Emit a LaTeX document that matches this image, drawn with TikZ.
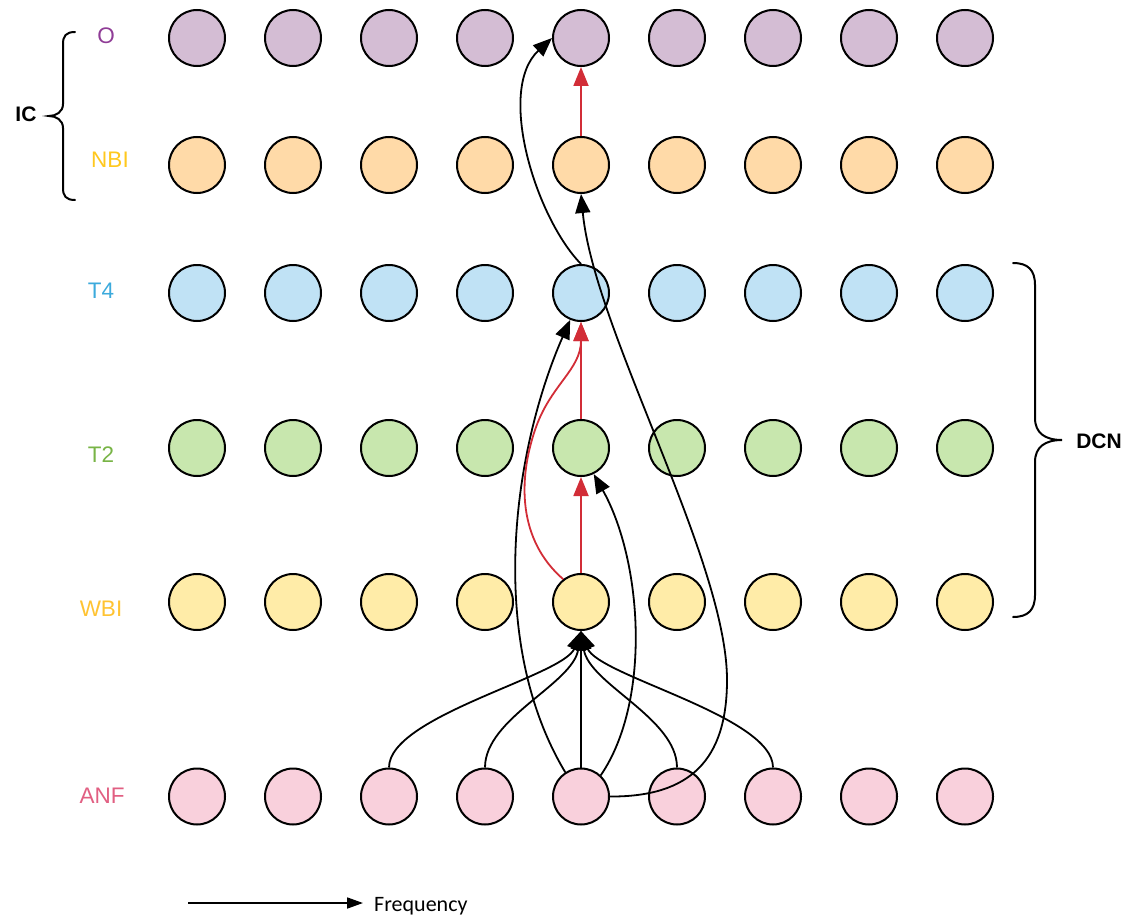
\documentclass[tikz,border=0pt]{standalone}
\usepackage{fontspec}
\setmainfont{Liberation Sans}
\newfontfamily\calib{Carlito}
\usetikzlibrary{arrows.meta}

% node fills
\definecolor{fO}{HTML}{D4BDD4}
\definecolor{fNBI}{HTML}{FFDAA8}
\definecolor{fTfour}{HTML}{C0E2F5}
\definecolor{fTtwo}{HTML}{C8E7AE}
\definecolor{fWBI}{HTML}{FFECA8}
\definecolor{fANF}{HTML}{F9D0DC}
% row label colours
\definecolor{lO}{HTML}{8F3C96}
\definecolor{lNBI}{HTML}{FFC81E}
\definecolor{lTfour}{HTML}{3CAADC}
\definecolor{lTtwo}{HTML}{78B446}
\definecolor{lWBI}{HTML}{FFC332}
\definecolor{lANF}{HTML}{E15F82}
\definecolor{redlink}{HTML}{D22D37}

\tikzset{
  dot/.style={circle, draw=black, line width=2pt, minimum size=56pt, inner sep=0pt},
  rowlabel/.style={font=\fontsize{22.5}{24}\selectfont, inner sep=0pt},
  grouplabel/.style={font=\fontsize{21}{23}\selectfont\bfseries, inner sep=0pt},
  link/.style={line width=1.8pt, -{Triangle[length=19pt,width=15pt]}},
  redarrow/.style={link, draw=redlink},
  bracepath/.style={line width=2pt, line cap=round}
}

\begin{document}
\begin{tikzpicture}[x=1pt, y=-1pt]
\useasboundingbox (0,0) rectangle (1145,915);

% grid of nodes: six rows, nine columns
\foreach \r/\yy/\fc in {o/38/fO, nbi/165/fNBI, tf/293/fTfour, tt/448/fTtwo, wbi/602/fWBI, anf/796.5/fANF}{
  \foreach \c in {1,...,9}{
    \node[dot, fill=\fc] (\r\c) at ({197+96*(\c-1)}, \yy) {};
  }
}

% row labels
\node[rowlabel, text=lO]     (lblO)   at (106,36)  {O};
\node[rowlabel, text=lNBI]   (lblNBI) at (110,160) {NBI};
\node[rowlabel, text=lTfour] (lblT4)  at (101,291) {T4};
\node[rowlabel, text=lTtwo]  (lblT2)  at (101,455) {T2};
\node[rowlabel, text=lWBI]   (lblWBI) at (101,609) {WBI};
\node[rowlabel, text=lANF]   (lblANF) at (102,796) {ANF};

% group braces
\draw[bracepath] (75,32) .. controls (66,32) and (63,36) .. (63,44) -- (63,104)
  .. controls (63,112) and (56,116) .. (49,116)
  .. controls (56,116) and (63,120) .. (63,128) -- (63,188)
  .. controls (63,196) and (66,200) .. (75,200);
\node[grouplabel] (lblIC) at (26,114) {IC};

\draw[bracepath] (1013,263) .. controls (1028,263) and (1035,270) .. (1035,285) -- (1035,418)
  .. controls (1035,433) and (1045,440) .. (1062,440)
  .. controls (1045,440) and (1035,447) .. (1035,462) -- (1035,595)
  .. controls (1035,610) and (1028,617) .. (1013,617);
\node[grouplabel] (lblDCN) at (1099,441) {DCN};

% ANF inputs converging on WBI
\draw[link] (anf5.north) -- (wbi5.south);
\draw[link] (anf3.north) .. controls (389,716) and (564,676) .. (wbi5.south);
\draw[link] (anf4.north) .. controls (485,718) and (573,684) .. (wbi5.south);
\draw[link] (anf6.north) .. controls (677,718) and (589,684) .. (wbi5.south);
\draw[link] (anf7.north) .. controls (773,716) and (598,676) .. (wbi5.south);

% long-range links from ANF
\draw[link] (anf5.123) .. controls (486,640) and (513,450) .. (tf5.248);
\draw[link] (anf5.47) .. controls (652,700) and (642,560) .. (tt5.-64);
\draw[link] (anf5.east) .. controls (690,797) and (727,760) .. (727,680)
  .. controls (727,560) and (594,330) .. (nbi5.south);
\draw[link] (tf5.north) .. controls (536,218) and (496,90) .. (o5.west);

% red pathway
\draw[redarrow] (wbi5.north) -- (tt5.south);
\draw[redarrow] (tt5.north) -- (tf5.south);
\draw[redarrow] (nbi5.north) -- (o5.south);
\draw[redarrow] (wbi5.128) .. controls (518,540) and (518,480) .. (535,430)
  .. controls (550,385) and (581,370) .. (tf5.south);

% frequency axis
\coordinate (fstart) at (188,903);
\coordinate (fend) at (363,903);
\node[anchor=base west, inner sep=0pt, font=\calib\fontsize{22}{24}\selectfont] (freq) at (374,911) {Frequency};
\draw[line width=1.8pt, -{Triangle[length=16pt,width=11pt]}] (fstart) -- (fend);
\end{tikzpicture}
\end{document}
